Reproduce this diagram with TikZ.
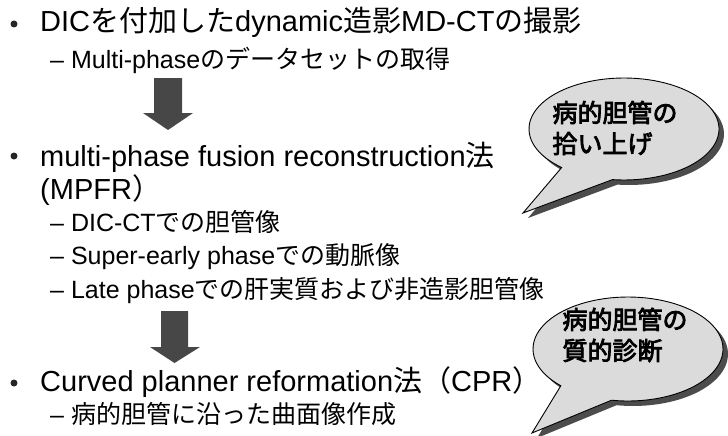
\documentclass[tikz,border=0pt]{standalone}
\usepackage{fontspec}
\setmainfont{Liberation Sans}
\newfontfamily\jp{Noto Sans CJK JP}
\newfontfamily\jpb{Noto Sans CJK JP}[FakeBold=3.2]
\newcommand\J[1]{{\jp #1}}
\begin{document}
\begin{tikzpicture}[x=1pt,y=-1pt,
  main/.style={anchor=base west, inner sep=0pt, font=\fontsize{29}{33}\selectfont},
  sub/.style={anchor=base west, inner sep=0pt, font=\fontsize{25}{29}\selectfont},
  bul/.style={circle, fill=black!85, inner sep=0pt, minimum size=7pt},
  blockarrow/.style={fill=black!72, draw=none},
  bubble/.style={fill=black!14, draw=black, line width=0.9pt},
  bshadow/.style={fill=black!70, draw=none},
  btext/.style={align=left, font=\jpb\fontsize{25}{31}\selectfont, inner sep=0pt}]
\useasboundingbox (0,0) rectangle (728,436);
\fill[white] (0,0) rectangle (728,436);

% bullets
\node[bul] (b1) at (14,24) {};
\node[bul] (b3) at (14,156) {};
\node[bul] (b5) at (14,383) {};

% text lines
\node[main] (l1) at (40,32) {DIC\J{を付加した}dynamic\J{造影}MD-CT\J{の撮影}};
\node[sub]  (l2) at (50,68) {– Multi-phase\J{のデータセットの取得}};
\node[main] (l3) at (40,166) {multi-phase fusion reconstruction\J{法}};
\node[main] (l4) at (40,199) {(MPFR\J{）}};
\node[sub]  (s1) at (50,231) {– DIC-CT\J{での胆管像}};
\node[sub]  (s2) at (50,264) {– Super-early phase\J{での動脈像}};
\node[sub]  (s3) at (50,298) {– Late phase\J{での肝実質および非造影胆管像}};
\node[main] (l5) at (40,391) {Curved planner reformation\J{法（}CPR\J{）}};
\node[sub]  (s4) at (50,423) {– \J{病的胆管に沿った曲面像作成}};

% block arrows
\fill[blockarrow] (154,78) -- (182,78) -- (182,113) -- (193,113) -- (168,130)
  -- (143,113) -- (154,113) -- cycle;
\fill[blockarrow] (161,311) -- (188,311) -- (188,347) -- (200,347) -- (174.5,363)
  -- (150,347) -- (161,347) -- cycle;

% bubble 1
\fill[bshadow, shift={(5,5)}] (523,213) -- plot[domain=97:-229, samples=90]
  ({624+95*cos(\x)},{129+51*sin(\x)}) -- cycle;
\filldraw[bubble] (523,213) -- plot[domain=97:-229, samples=90]
  ({624+95*cos(\x)},{129+51*sin(\x)}) -- cycle;
\node[btext] (t1) at (615,128) {病的胆管の\\拾い上げ};

% bubble 2
\fill[bshadow, shift={(5,5)}] (532,433) -- plot[domain=100:-225, samples=90]
  ({628+95*cos(\x)},{349+52*sin(\x)}) -- cycle;
\filldraw[bubble] (532,433) -- plot[domain=100:-225, samples=90]
  ({628+95*cos(\x)},{349+52*sin(\x)}) -- cycle;
\node[btext] (t2) at (625,335) {病的胆管の\\質的診断};
\end{tikzpicture}
\end{document}
